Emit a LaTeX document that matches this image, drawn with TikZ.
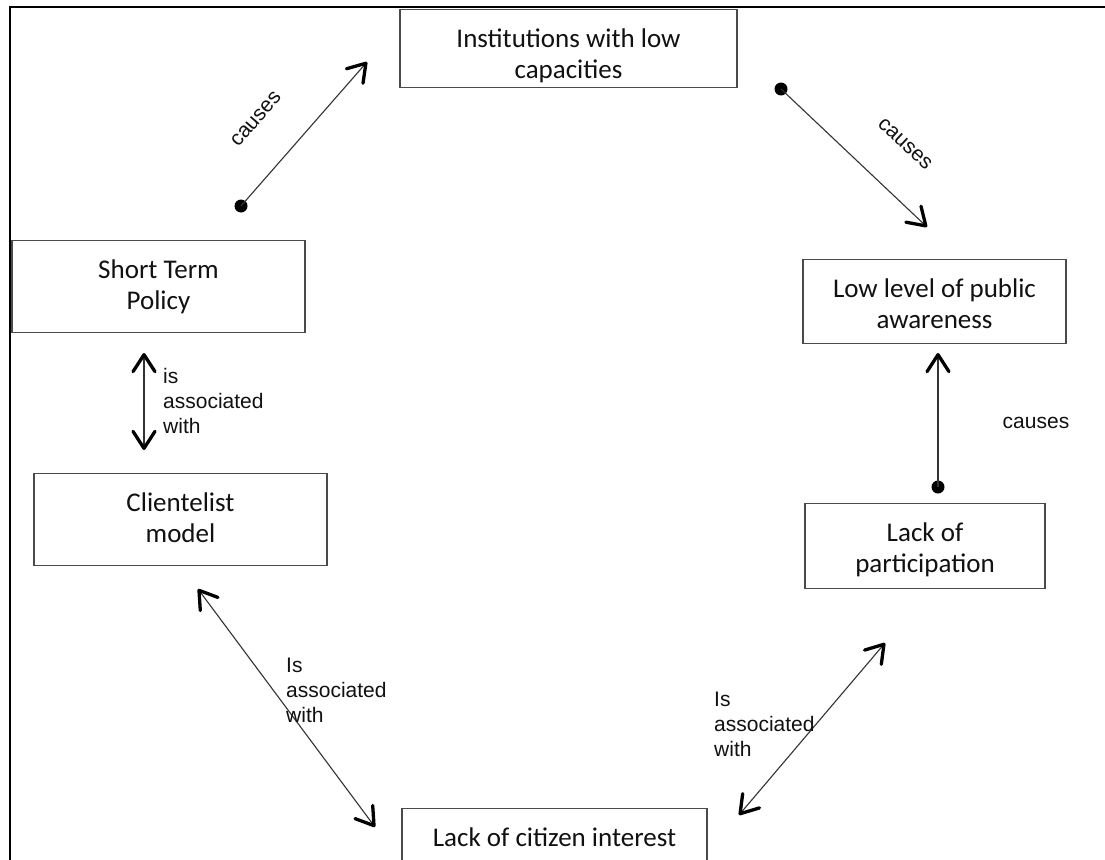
\documentclass[tikz,border=0pt]{standalone}
\usepackage{fontspec}
\setmainfont{Carlito}
\newfontfamily\arialf{Liberation Sans}
\usetikzlibrary{arrows.meta}
\definecolor{boxline}{HTML}{4A4A4A}
\definecolor{conline}{HTML}{333333}
\definecolor{txt}{HTML}{111111}
\newcommand{\topstrut}{\rule{0pt}{38pt}}
\newcommand{\botstrut}[1]{\rule[-#1]{0pt}{#1}}
\begin{document}
\begin{tikzpicture}[x=1pt,y=-1pt,
  box/.style={draw=boxline, line width=1.3pt, inner sep=0pt, align=center, text=txt,
    anchor=north, font=\fontsize{27}{31}\selectfont},
  lbl/.style={inner sep=0pt, text=txt, font=\arialf\fontsize{21}{25}\selectfont, align=left},
  conn/.style={draw=conline, line width=1.1pt},
  barb/.tip={Straight Barb[length=17pt,width=22pt,line width=3.3pt,round,color=black]},
  onetip/.style={-barb},
  twotip/.style={barb-barb},
  dotn/.style={circle, fill=black, inner sep=0pt, minimum size=13pt}
]
\useasboundingbox (0,0) rectangle (1105,859);
\clip (0,0) rectangle (1105,859);
\fill[white] (0,0) rectangle (1105,859);
% frame
\draw[line width=2pt, black] (10,870) -- (10,7) -- (1110,7);

% boxes (anchored at their top edge)
\node[box, minimum width=337pt] (inst) at (568.5,9) {\topstrut Institutions with low\\capacities\botstrut{9pt}};
\node[box, minimum width=293pt] (stp) at (158.5,240) {\topstrut Short Term\\Policy\botstrut{23pt}};
\node[box, minimum width=293pt] (cm) at (180.5,473) {\topstrut Clientelist\\model\botstrut{23pt}};
\node[box, minimum width=263pt] (llpa) at (934.5,259) {\topstrut Low level of public\\awareness\botstrut{15pt}};
\node[box, minimum width=240pt] (lop) at (925,503) {\topstrut Lack of\\participation\botstrut{16pt}};
\node[box, minimum width=305pt] (lci) at (554.5,808) {\topstrut Lack of citizen interest\botstrut{30pt}};

% connector end points
\node[dotn] (d1) at (241,206) {};
\coordinate (t1) at (367,62);
\node[dotn] (d2) at (781,89) {};
\coordinate (t2) at (927,227);
\node[dotn] (d3) at (938,487) {};
\coordinate (t3) at (938,353);
\coordinate (a4) at (144,353);
\coordinate (b4) at (144,450);
\coordinate (a5) at (198,589);
\coordinate (b5) at (375,827);
\coordinate (a6) at (885,643);
\coordinate (b6) at (739,815);

% connectors
\draw[conn, onetip] (d1.center) -- (t1);
\draw[conn, onetip] (d2.center) -- (t2);
\draw[conn, onetip] (d3.center) -- (t3);
\draw[conn, twotip] (a4) -- (b4);
\draw[conn, twotip] (a5) -- (b5);
\draw[conn, twotip] (a6) -- (b6);

% labels
\node[lbl, rotate=49] (l1) at (256,119) {causes};
\node[lbl, rotate=-43] (l2) at (905,144) {causes};
\node[lbl] (l3) at (1036,422.5) {causes};
\node[lbl, anchor=west] (l4) at (163,400.5) {is\\associated\\with};
\node[lbl, anchor=west] (l5) at (286,690.5) {Is\\associated\\with};
\node[lbl, anchor=west] (l6) at (714,724.5) {Is\\associated\\with};
\end{tikzpicture}
\end{document}
